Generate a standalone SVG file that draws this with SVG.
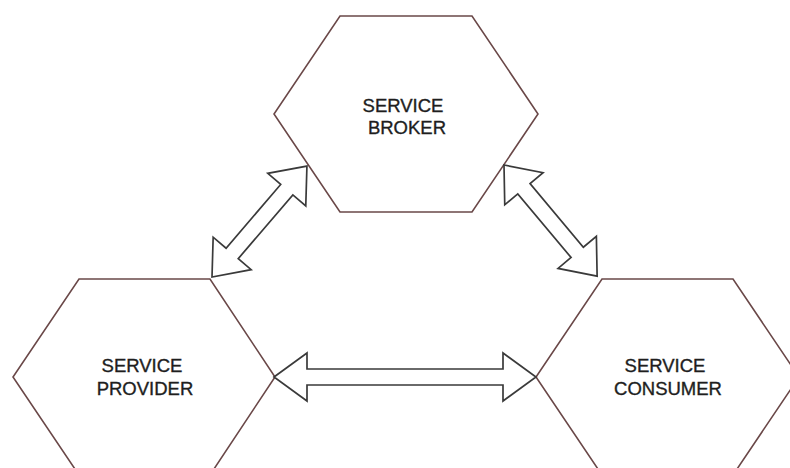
<svg xmlns="http://www.w3.org/2000/svg" width="790" height="468" viewBox="0 0 790 468">
  <style>
    .hex { fill: #ffffff; stroke: #6a4848; stroke-width: 1.6; stroke-linejoin: miter; }
    .lbl { font-family: "Liberation Sans", Arial, sans-serif; font-size: 18.5px; fill: #1e1e1e; stroke: #1e1e1e; stroke-width: 0.35; text-anchor: middle; }
    .arrow { fill: #ffffff; stroke: #3a3a3a; stroke-width: 1.7; stroke-linejoin: miter; }
  </style>
  <rect width="790" height="468" fill="#ffffff"/>

  <g id="service-broker">
    <polygon class="hex" points="340,16 472,16 538,114 472,212 340,212 274,114"/>
    <text class="lbl" x="403" y="112">SERVICE</text>
    <text class="lbl" x="407" y="134">BROKER</text>
  </g>

  <g id="service-provider">
    <polygon class="hex" points="79,279 210,279 275,377 210,475 79,475 13,377"/>
    <text class="lbl" x="142" y="372">SERVICE</text>
    <text class="lbl" x="145" y="395">PROVIDER</text>
  </g>

  <g id="service-consumer">
    <polygon class="hex" points="602,279 733,279 799,377 733,475 602,475 536,377"/>
    <text class="lbl" x="665" y="372">SERVICE</text>
    <text class="lbl" x="668" y="395">CONSUMER</text>
  </g>

  <g id="connectors">
    <!-- provider <-> broker -->
    <polygon class="arrow" transform="translate(212,277) rotate(-49.44)"
      points="0,0 31,-25 31,-8 115,-8 115,-25 146,0 115,25 115,8 31,8 31,25"/>
    <!-- broker <-> consumer -->
    <polygon class="arrow" transform="translate(504,165) rotate(50.04)"
      points="0,0 31,-25 31,-8 114,-8 114,-25 145,0 114,25 114,8 31,8 31,25"/>
    <!-- provider <-> consumer -->
    <polygon class="arrow" transform="translate(274,377)"
      points="0,0 33,-24 33,-8 229,-8 229,-24 262,0 229,24 229,8 33,8 33,24"/>
  </g>
</svg>
